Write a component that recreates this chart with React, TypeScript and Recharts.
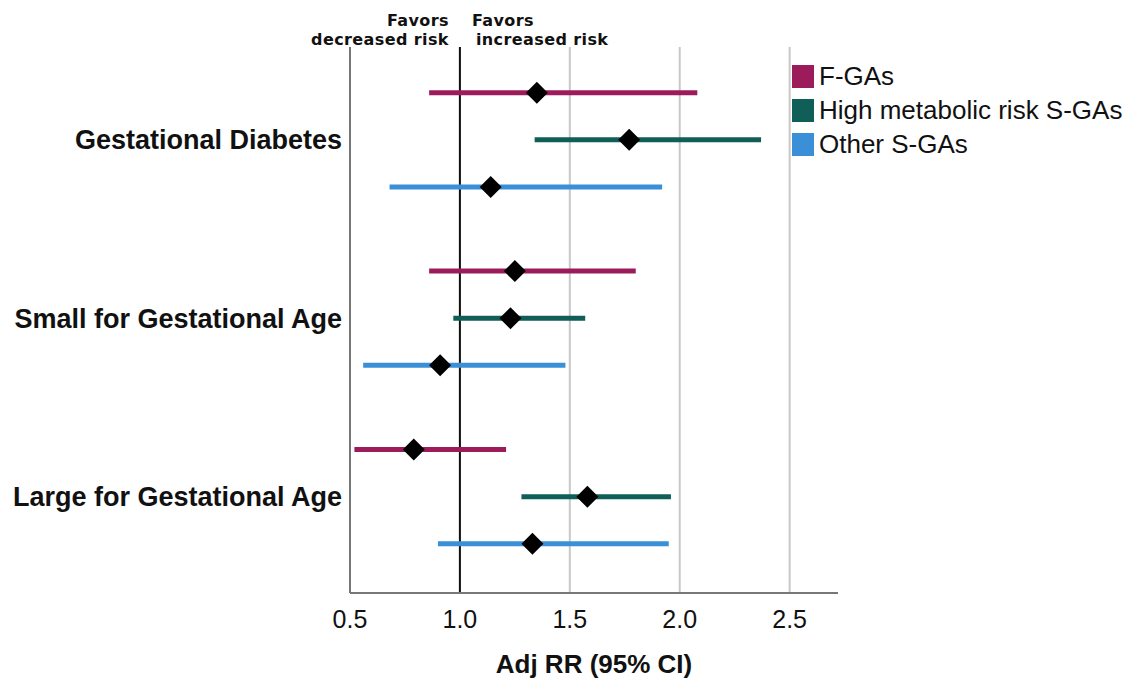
import { ScatterChart, Scatter, XAxis, YAxis, CartesianGrid, ErrorBar, ReferenceLine, Legend } from 'recharts';

// outcomes (top to bottom)
const outcomes = ['Gestational Diabetes', 'Small for Gestational Age', 'Large for Gestational Age'];

const seriesNames = ['F-GAs', 'High metabolic risk S-GAs', 'Other S-GAs'];
const seriesColors = ['#9c1c5b', '#0f5e57', '#3a8fd6'];

// adjusted RR and 95% CI per outcome
const fgaRR = [1.35, 1.25, 0.79];
const fgaLow = [0.86, 0.86, 0.52];
const fgaHigh = [2.08, 1.80, 1.21];

const highRiskRR = [1.77, 1.23, 1.58];
const highRiskLow = [1.34, 0.97, 1.28];
const highRiskHigh = [2.37, 1.57, 1.96];

const otherRR = [1.14, 0.91, 1.33];
const otherLow = [0.68, 0.56, 0.90];
const otherHigh = [1.92, 1.48, 1.95];

const xTicks = [0.5, 1.0, 1.5, 2.0, 2.5];

// vertical offset of each series inside an outcome group
const rowOffsets = [-0.264, 0, 0.264];

const buildSeries = (rr: number[], low: number[], high: number[], idx: number) =>
    rr.map((v, i) => ({
        x: v,
        y: i + rowOffsets[idx],
        err: [v - low[i], high[i] - v],
    }));

const series = [
    buildSeries(fgaRR, fgaLow, fgaHigh, 0),
    buildSeries(highRiskRR, highRiskLow, highRiskHigh, 1),
    buildSeries(otherRR, otherLow, otherHigh, 2),
];

const Diamond = (props: any) => {
    const { cx, cy } = props;
    const r = 11;
    return <polygon points={`${cx},${cy - r} ${cx + r},${cy} ${cx},${cy + r} ${cx - r},${cy}`} fill="#000" />;
};

const FavorsLabel = (props: any) => {
    const { viewBox } = props;
    const x = viewBox.x;
    const style = { fontFamily: 'DejaVu Sans', fontWeight: 'bold', fontSize: 16, letterSpacing: 0.4, fill: '#111' } as const;
    return (
        <g>
            <text x={x - 11} y={26} textAnchor="end" style={style}>Favors</text>
            <text x={x - 11} y={45} textAnchor="end" style={style}>decreased risk</text>
            <text x={x + 12} y={26} textAnchor="start" style={style}>Favors</text>
            <text x={x + 16} y={45} textAnchor="start" style={style}>increased risk</text>
        </g>
    );
};

const renderLegend = () => (
    <div style={{ fontFamily: 'Liberation Sans, Arial, sans-serif', fontSize: 26, color: '#111' }}>
        {seriesNames.map((name, i) => (
            <div key={name} style={{ display: 'flex', alignItems: 'center', height: 34 }}>
                <span style={{ display: 'inline-block', width: 22, height: 23, background: seriesColors[i], marginRight: 5 }} />
                <span style={{ lineHeight: '26px' }}>{name}</span>
            </div>
        ))}
    </div>
);

const App = () => {
    return (
        <div style={{ position: 'absolute', left: 0, top: 0, width: 1136, height: 688, background: '#fff' }}>
            <ScatterChart width={1136} height={688} margin={{ top: 47, right: 298, bottom: 0, left: 0 }}>
                <CartesianGrid horizontal={false} verticalValues={xTicks} stroke="#c8c8c8" strokeWidth={2} />
                <XAxis
                    type="number"
                    dataKey="x"
                    domain={[0.5, 2.72]}
                    allowDataOverflow
                    ticks={xTicks}
                    tickFormatter={(v: number) => v.toFixed(1)}
                    tickLine={false}
                    tickMargin={11}
                    axisLine={{ stroke: '#777', strokeWidth: 2 }}
                    tick={{ fontSize: 25, fill: '#111', fontFamily: 'Liberation Sans, Arial, sans-serif' }}
                    height={95}
                    label={{
                        value: 'Adj RR (95% CI)',
                        position: 'insideBottom',
                        offset: 15,
                        style: { fontSize: 26, fontWeight: 'bold', fill: '#111', fontFamily: 'Liberation Sans, Arial, sans-serif' },
                    }}
                />
                <YAxis
                    type="number"
                    dataKey="y"
                    domain={[-0.52, 2.54]}
                    reversed
                    ticks={[0, 1, 2]}
                    tickFormatter={(v: number) => outcomes[v]}
                    tickLine={false}
                    axisLine={{ stroke: '#777', strokeWidth: 2 }}
                    tick={{ fontSize: 27, fontWeight: 'bold', fill: '#111', fontFamily: 'Liberation Sans, Arial, sans-serif' }}
                    width={350}
                />
                <ReferenceLine x={1} stroke="#111" strokeWidth={2} label={<FavorsLabel />} />
                <Legend
                    layout="horizontal"
                    verticalAlign="middle"
                    content={renderLegend}
                    wrapperStyle={{ top: 59, left: 792, width: 344 }}
                />
                {series.map((data, i) => (
                    <Scatter
                        key={seriesNames[i]}
                        name={seriesNames[i]}
                        data={data}
                        fill="#000"
                        shape={<Diamond />}
                        isAnimationActive={false}
                    >
                        <ErrorBar dataKey="err" direction="x" width={0} strokeWidth={5} stroke={seriesColors[i]} isAnimationActive={false} />
                    </Scatter>
                ))}
            </ScatterChart>
        </div>
    );
};

export default App;
